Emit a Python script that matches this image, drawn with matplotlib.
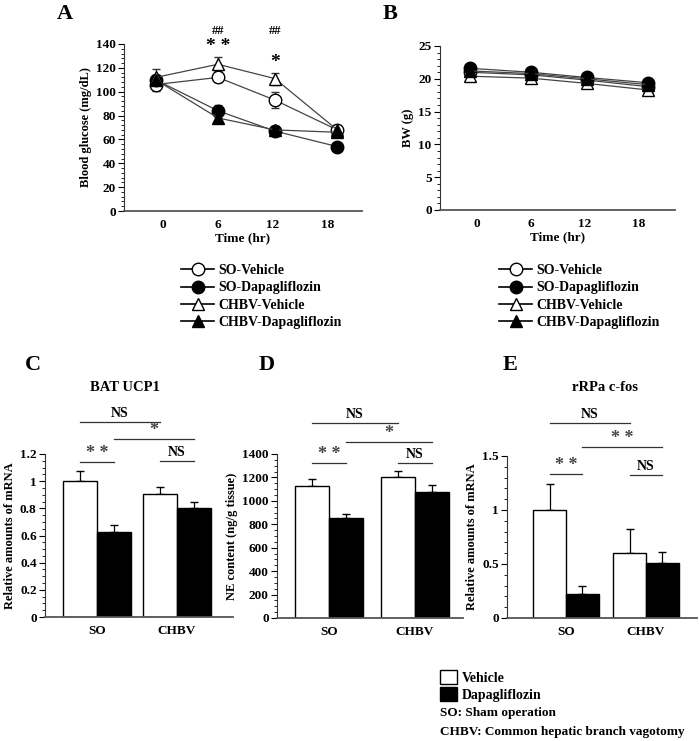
import matplotlib
matplotlib.use("Agg")
import matplotlib.pyplot as plt
import matplotlib.patches as mpatches
from matplotlib.lines import Line2D
from matplotlib.ticker import MultipleLocator, FuncFormatter

plt.rcParams["font.family"] = ["Liberation Serif", "DejaVu Serif"]
plt.rcParams["font.weight"] = "bold"
plt.rcParams["axes.labelweight"] = "bold"

# ── time course data (A: blood glucose, B: body weight) ──────────────────────
TIME_TICKS = [0, 6, 12, 18]
TIME_POS = [-0.8, 6, 12.2, 19]          # where the points sit in the figure

GROUPS = ["SO-Vehicle", "SO-Dapagliflozin", "CHBV-Vehicle", "CHBV-Dapagliflozin"]

glucose_mean = {
    "SO-Vehicle":         [106, 112, 93, 68],
    "SO-Dapagliflozin":   [110, 84, 67, 54],
    "CHBV-Vehicle":       [112, 123, 111, 68],
    "CHBV-Dapagliflozin": [110, 78, 68, 66],
}
glucose_err = {
    "SO-Vehicle":         [5, 4, 7, 3],
    "SO-Dapagliflozin":   [3, 5, 3, 2],
    "CHBV-Vehicle":       [7, 6, 5, 4],
    "CHBV-Dapagliflozin": [3, 3, 3, 3],
}
bw_mean = {
    "SO-Vehicle":         [21.0, 20.6, 19.8, 18.8],
    "SO-Dapagliflozin":   [21.6, 21.0, 20.2, 19.4],
    "CHBV-Vehicle":       [20.4, 20.1, 19.3, 18.3],
    "CHBV-Dapagliflozin": [21.2, 20.8, 20.0, 19.1],
}

# ── bar data (C, D, E) ───────────────────────────────────────────────────────
BAR_GROUPS = ["SO", "CHBV"]
ucp1_vehicle, ucp1_vehicle_err = [1.0, 0.905], [0.075, 0.05]
ucp1_dapa, ucp1_dapa_err = [0.625, 0.80], [0.05, 0.045]
ne_vehicle, ne_vehicle_err = [1130, 1200], [60, 55]
ne_dapa, ne_dapa_err = [850, 1075], [40, 60]
cfos_vehicle, cfos_vehicle_err = [1.0, 0.605], [0.24, 0.22]
cfos_dapa, cfos_dapa_err = [0.225, 0.51], [0.07, 0.10]

# comparisons: (bar a, bar b, label, height in axes fraction)
# bars: 0 SO-veh, 1 SO-dapa, 2 CHBV-veh, 3 CHBV-dapa
SIG_C = [(0, 1, "* *", 0.95), (0, 2, "NS", 1.196), (1, 3, "*", 1.092), (2, 3, "NS", 0.957)]
SIG_D = [(0, 1, "* *", 0.945), (0, 2, "NS", 1.189), (1, 3, "*", 1.073), (2, 3, "NS", 0.945)]
SIG_E = [(0, 1, "* *", 0.889), (0, 2, "NS", 1.204), (1, 3, "* *", 1.056), (2, 3, "NS", 0.883)]

STYLE = {
    "SO-Vehicle":         dict(marker="o", mfc="white"),
    "SO-Dapagliflozin":   dict(marker="o", mfc="black"),
    "CHBV-Vehicle":       dict(marker="^", mfc="white"),
    "CHBV-Dapagliflozin": dict(marker="^", mfc="black"),
}

W, H = 700, 741


def rect(left, top, right, bottom):
    return [left / W, 1 - bottom / H, (right - left) / W, (bottom - top) / H]


def style_axes(ax):
    for s in ["top", "right"]:
        ax.spines[s].set_visible(False)
    ax.spines["left"].set_color("#333333")
    ax.spines["bottom"].set_color("#555555")
    ax.spines["bottom"].set_linewidth(1.3)
    ax.yaxis.set_major_formatter(FuncFormatter(lambda v, p: f"{v:g}"))
    ax.tick_params(axis="y", direction="out", length=4, width=0.8, labelsize=9.5, pad=2)
    ax.tick_params(axis="y", which="minor", direction="out", length=2, width=0.6)
    ax.tick_params(axis="x", length=0, labelsize=9.5, pad=6)


def line_panel(ax, means, errs, ylim, major, minor, ylabel):
    for g in GROUPS:
        st = STYLE[g]
        ax.errorbar(TIME_POS, means[g], yerr=None if errs is None else errs[g],
                    color="#444444", lw=0.9, marker=st["marker"], ms=9,
                    mfc=st["mfc"], mec="black", mew=1.0, ecolor="#333333",
                    elinewidth=0.9, capsize=3, zorder=3)
    ax.set_ylim(*ylim)
    ax.yaxis.set_major_locator(MultipleLocator(major))
    ax.yaxis.set_minor_locator(MultipleLocator(minor))
    ax.set_xticks(TIME_TICKS)
    ax.set_xlabel("Time (hr)", fontsize=9.5, labelpad=1)
    ax.set_ylabel(ylabel, fontsize=9, labelpad=3)
    style_axes(ax)


def bar_panel(ax, veh, veh_err, dapa, dapa_err, xlim, width, ylim, major, minor,
              ylabel, sigs):
    x = list(range(len(BAR_GROUPS)))
    xv = [xi - width / 2 for xi in x]
    xd = [xi + width / 2 for xi in x]
    ax.bar(xv, veh, width, color="white", edgecolor="black", lw=1.0, zorder=2)
    ax.bar(xd, dapa, width, color="black", edgecolor="black", lw=1.0, zorder=2)
    ax.errorbar(xv, veh, yerr=[[0] * len(veh), veh_err], fmt="none",
                ecolor="black", elinewidth=0.9, capsize=3, zorder=1)
    ax.errorbar(xd, dapa, yerr=[[0] * len(dapa), dapa_err], fmt="none",
                ecolor="black", elinewidth=0.9, capsize=3, zorder=1)
    ax.set_xlim(*xlim)
    ax.set_ylim(*ylim)
    ax.yaxis.set_major_locator(MultipleLocator(major))
    ax.yaxis.set_minor_locator(MultipleLocator(minor))
    ax.set_xticks(x)
    ax.set_xticklabels(BAR_GROUPS)
    ax.set_ylabel(ylabel, fontsize=9, labelpad=3)
    style_axes(ax)

    centers = [xv[0], xd[0], xv[1], xd[1]]
    trans = ax.get_xaxis_transform()
    for a, b, label, h in sigs:
        ax.plot([centers[a], centers[b]], [h, h], color="#333333", lw=0.9,
                transform=trans, clip_on=False)
        star = label != "NS"
        ax.text((centers[a] + centers[b]) / 2, h + (0.0 if star else 0.015), label,
                transform=trans, ha="center", va="bottom",
                fontsize=13 if star else 10, fontweight="bold",
                color="#444444" if star else "black")


fig = plt.figure(figsize=(7, 7.41), dpi=100)

# A
axA = fig.add_axes(rect(124, 44, 362, 211))
line_panel(axA, glucose_mean, glucose_err, (0, 140), 20, 4, "Blood glucose (mg/dL)")
axA.set_xlim(-4.25, 21.7)
tA = axA.get_xaxis_transform()
axA.text(6, 0.934, "* *", transform=tA, ha="center", va="bottom", fontsize=14)
axA.text(6, 1.042, "##", transform=tA, ha="center", va="bottom", fontsize=9)
axA.text(12.2, 0.838, "*", transform=tA, ha="center", va="bottom", fontsize=14)
axA.text(12.2, 1.042, "##", transform=tA, ha="center", va="bottom", fontsize=9)

# B
axB = fig.add_axes(rect(440, 46, 675, 210))
line_panel(axB, bw_mean, None, (0, 25), 5, 1, "BW (g)")
axB.set_xlim(-4.1, 22)

handles = [Line2D([], [], color="black", lw=1.2, marker=STYLE[g]["marker"], ms=9,
                  mfc=STYLE[g]["mfc"], mec="black") for g in GROUPS]
for x0 in [181, 499]:
    fig.legend(handles, GROUPS, loc="upper left", bbox_to_anchor=(x0 / W, 1 - 264 / H),
               frameon=False, handlelength=2.4, handletextpad=0.3,
               labelspacing=0.32, borderpad=0, borderaxespad=0,
               prop={"weight": "bold", "size": 10})

# C, D, E
axC = fig.add_axes(rect(45, 454, 233, 617))
bar_panel(axC, ucp1_vehicle, ucp1_vehicle_err, ucp1_dapa, ucp1_dapa_err,
          (-0.65, 1.7), 0.425, (0, 1.2), 0.2, 0.05, "Relative amounts of mRNA", SIG_C)
axD = fig.add_axes(rect(277, 454, 463, 618))
bar_panel(axD, ne_vehicle, ne_vehicle_err, ne_dapa, ne_dapa_err,
          (-0.605, 1.558), 0.395, (0, 1400), 200, 50, "NE content (ng/g tissue)", SIG_D)
axE = fig.add_axes(rect(507, 456, 697, 618))
bar_panel(axE, cfos_vehicle, cfos_vehicle_err, cfos_dapa, cfos_dapa_err,
          (-0.74, 1.64), 0.41, (0, 1.5), 0.5, 0.1, "Relative amounts of mRNA", SIG_E)

# panel letters and titles
for letter, px, py in [("A", 65, 14), ("B", 390, 14), ("C", 33, 365),
                       ("D", 267, 365), ("E", 510, 365)]:
    fig.text(px / W, 1 - py / H, letter, fontsize=16, fontweight="bold",
             ha="center", va="center")
fig.text(125 / W, 1 - 388 / H, "BAT UCP1", fontsize=10.5, fontweight="bold",
         ha="center", va="center")
fig.text(605 / W, 1 - 387 / H, "rRPa c-fos", fontsize=10.5, fontweight="bold",
         ha="center", va="center")

# bottom legend
bar_handles = [mpatches.Patch(facecolor="white", edgecolor="black", lw=1.0),
               mpatches.Patch(facecolor="black", edgecolor="black", lw=1.0)]
fig.legend(bar_handles, ["Vehicle", "Dapagliflozin"], loc="upper left",
           bbox_to_anchor=(440 / W, 1 - 670 / H), frameon=False,
           handlelength=1.2, handleheight=1.2, handletextpad=0.4, labelspacing=0.15,
           borderpad=0, borderaxespad=0, prop={"weight": "bold", "size": 10})
fig.text(440 / W, 1 - 713 / H, "SO: Sham operation", fontsize=9.5,
         fontweight="bold", ha="left", va="center")
fig.text(440 / W, 1 - 732 / H, "CHBV: Common hepatic branch vagotomy", fontsize=9.5,
         fontweight="bold", ha="left", va="center")

fig.savefig("out.png", dpi=100)
